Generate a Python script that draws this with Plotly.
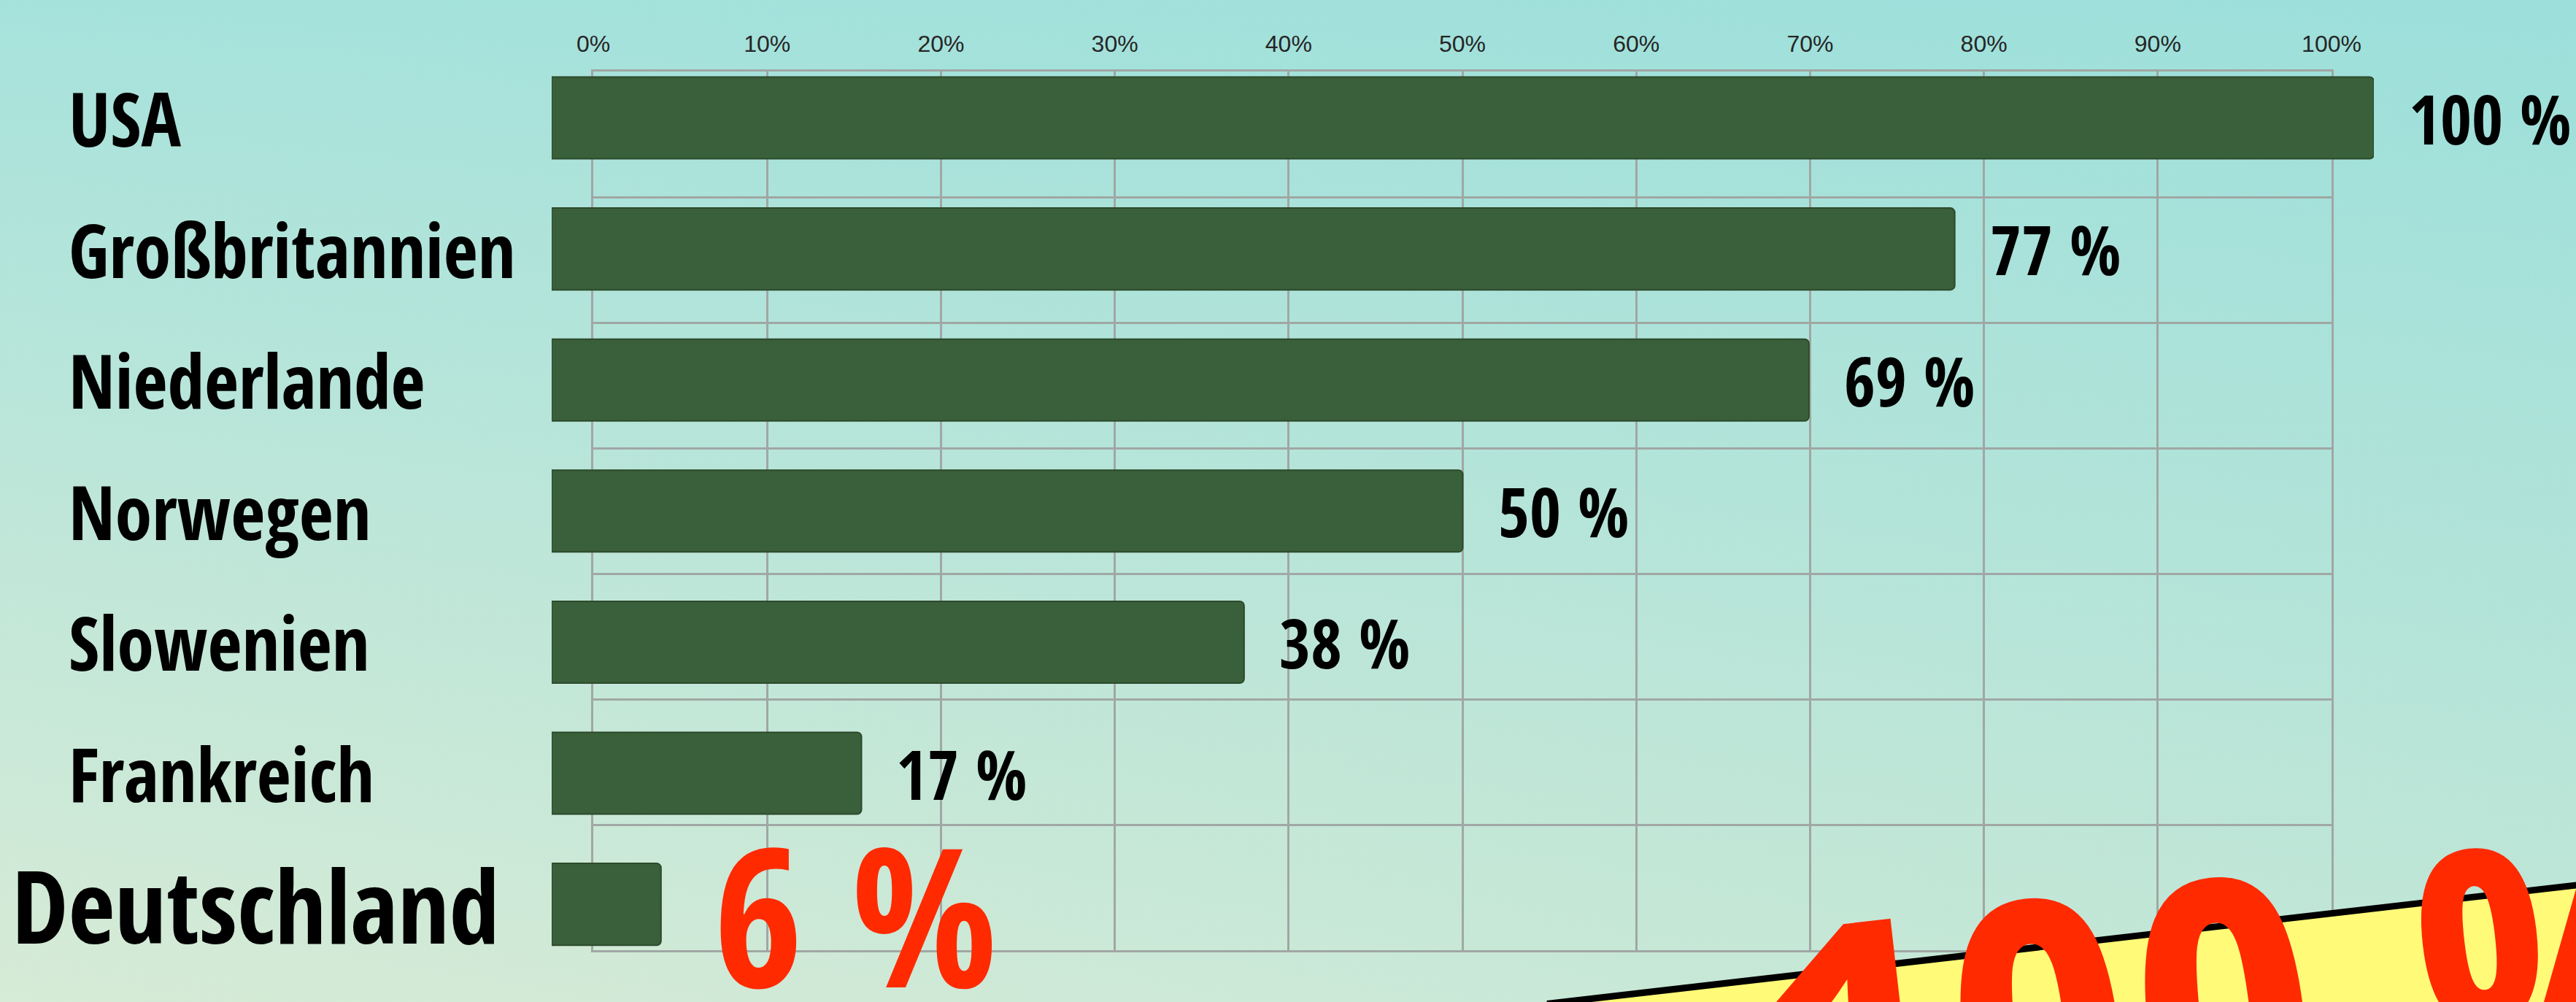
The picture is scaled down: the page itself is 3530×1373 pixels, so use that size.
import base64
import plotly.graph_objects as go

# ---------------- data ----------------
countries = ["USA", "Großbritannien", "Niederlande", "Norwegen", "Slowenien", "Frankreich", "Deutschland"]
values = [100, 77, 69, 50, 38, 17, 6]
grid_ticks = [0, 10, 20, 30, 40, 50, 60, 70, 80, 90, 100]
grid_tick_labels = ["0%", "10%", "20%", "30%", "40%", "50%", "60%", "70%", "80%", "90%", "100%"]
headline = "100 %"

# ---------------- layout helpers ----------------
W, H = 3530, 1373
def fx(px):
    return px / W
def fy(py):
    return 1 - py / H

NARROW = "Open Sans Condensed, Roboto Condensed, DejaVu Sans Condensed, sans-serif"
RED = "#FF2A00"
GRID = "#A0A7A4"

svg = (
    '<svg xmlns="http://www.w3.org/2000/svg" width="3530" height="1373" viewBox="0 0 3530 1373" preserveAspectRatio="none">'
    '<defs>'
    '<linearGradient id="v" x1="0" y1="0" x2="0" y2="1">'
    '<stop offset="0" stop-color="#A6E2DC"/><stop offset="1" stop-color="#D7EBD6"/></linearGradient>'
    '<linearGradient id="h" x1="0" y1="0" x2="1" y2="0">'
    '<stop offset="0" stop-color="#7FD8D8" stop-opacity="0"/><stop offset="1" stop-color="#7FD8D8" stop-opacity="0.25"/></linearGradient>'
    '</defs>'
    '<rect width="3530" height="1373" fill="url(#v)"/>'
    '<rect width="3530" height="1373" fill="url(#h)"/>'
    '</svg>'
)
bg_uri = "data:image/svg+xml;base64," + base64.b64encode(svg.encode()).decode()

fig = go.Figure()

# grid subplot (drawn first, below the bars)
fig.add_trace(go.Scatter(x=[None], y=[None], xaxis="x", yaxis="y", showlegend=False, hoverinfo="skip"))

# bars subplot (drawn on top)
fig.add_trace(go.Bar(
    x=values, y=countries, orientation="h", xaxis="x2", yaxis="y2",
    width=0.624,
    marker=dict(color="#39603A", line=dict(color="#2D4A2B", width=2)),
    showlegend=False, hoverinfo="skip",
))

annotations = []
# country labels
for c in countries:
    big = c == "Deutschland"
    annotations.append(dict(
        text=c, xref="paper", x=fx(14 if big else 92), xanchor="left",
        yref="y2", y=c, yanchor="middle", showarrow=False,
        font=dict(family=NARROW, size=139 if big else 102, color="black", weight=800),
    ))
# value labels
for c, v in zip(countries, values):
    big = c == "Deutschland"
    annotations.append(dict(
        text=f"{v} %", xref="x2", x=v, xanchor="left", xshift=70 if big else 46,
        yref="y2", y=c, yanchor="middle", yshift=-11 if big else 0, showarrow=False,
        font=dict(family=NARROW, size=265 if big else 93, color=RED if big else "black", weight=800),
    ))
# headline on the banner
annotations.append(dict(
    text=headline, xref="paper", yref="paper", x=fx(3070), y=fy(1384),
    xanchor="center", yanchor="middle", textangle=-6.5, showarrow=False,
    font=dict(family=NARROW, size=550, color=RED, weight=800),
))

shapes = [
    dict(type="path", xref="paper", yref="paper",
         path=f"M {fx(2141)} {fy(1373)} L {fx(3530)} {fy(1213)} L {fx(3540)} {fy(1400)} L {fx(2100)} {fy(1400)} Z",
         fillcolor="#FFFB78", line=dict(width=0), layer="above"),
    dict(type="line", xref="paper", yref="paper",
         x0=fx(2120), y0=fy(1375.5), x1=fx(3545), y1=fy(1211.3),
         line=dict(color="black", width=9), layer="above"),
]

fig.update_layout(
    width=W, height=H, autosize=False,
    margin=dict(l=0, r=0, t=0, b=0, autoexpand=False),
    paper_bgcolor="rgba(0,0,0,0)", plot_bgcolor="rgba(0,0,0,0)",
    barcornerradius=6,
    images=[dict(source=bg_uri, xref="paper", yref="paper", x=0, y=1, sizex=1, sizey=1,
                 sizing="stretch", layer="below", xanchor="left", yanchor="top")],
    xaxis=dict(domain=[fx(813), fx(3195)], range=[0, 100], anchor="y", side="top",
               tickvals=grid_ticks, ticktext=grid_tick_labels,
               tickfont=dict(family="Liberation Sans, Arial, sans-serif", size=32, color="#262626"),
               ticks="outside", ticklen=11, tickcolor="rgba(0,0,0,0)",
               showgrid=True, gridcolor=GRID, gridwidth=3,
               showline=True, mirror=True, linecolor=GRID, linewidth=3,
               zeroline=False, fixedrange=True),
    yaxis=dict(domain=[fy(1302), fy(98)], range=[0, 7], anchor="x", dtick=1,
               showticklabels=False, ticks="",
               showgrid=True, gridcolor=GRID, gridwidth=3,
               showline=True, mirror=True, linecolor=GRID, linewidth=3,
               zeroline=False, fixedrange=True),
    xaxis2=dict(domain=[fx(756), fx(3253)], range=[0, 100], anchor="y2", visible=False, fixedrange=True),
    yaxis2=dict(domain=[fy(1302), fy(98)], type="category", categoryorder="array", categoryarray=countries,
                range=[6.350, -0.3536], anchor="x2", visible=False, fixedrange=True),
    annotations=annotations,
    shapes=shapes,
)

fig.write_html("out.html", config={"displayModeBar": False, "responsive": False},
               post_script="document.documentElement.style.overflow='hidden';document.body.style.margin='0';document.body.style.overflow='hidden';")
